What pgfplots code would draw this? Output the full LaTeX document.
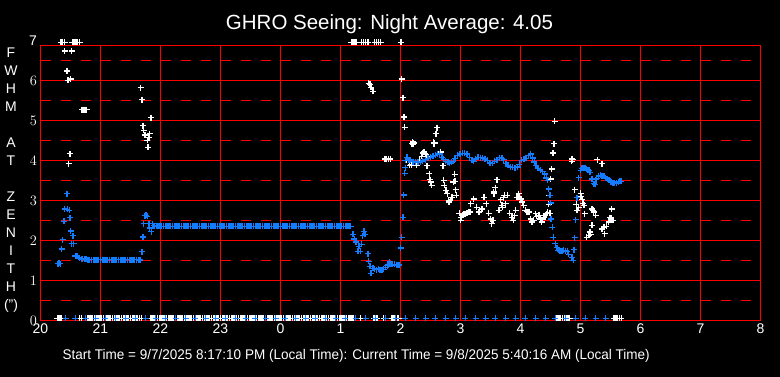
\documentclass[border=0pt]{standalone}
\usepackage{pgfplots}
\pgfplotsset{compat=1.18}
\usepackage{graphicx}
\usepackage{fontspec}
\setmainfont{Liberation Sans}
\definecolor{bl}{RGB}{20,125,255}
\definecolor{rd}{RGB}{255,0,0}
\pgfplotsset{wm/.style={only marks, mark=+, mark size=3pt, white, line width=1.3pt},
             bm/.style={only marks, mark=+, mark size=3pt, bl, line width=1.3pt}}
\begin{document}
\begin{tikzpicture}
\fill[black] (0pt,0pt) rectangle (780pt,377pt);
\node[white,anchor=base,font=\fontsize{20.5}{20.5}\selectfont] at (389.5pt,347.7pt) {GHRO Seeing: Night Average: 4.05};
\node[white,anchor=base west,inner sep=0pt] at (62.5pt,17pt) {\resizebox{587pt}{\height}{\fontsize{14}{14}\selectfont Start Time = 9/7/2025 8:17:10 PM (Local Time): Current Time = 9/8/2025 5:40:16 AM (Local Time)}};
\foreach \l/\yy in {F/319,W/301,H/283,M/265,A/229,T/211,Z/175,E/157,N/139,I/121,T/103,H/85,(")/67}
  \node[white,anchor=base,inner sep=0pt,font=\fontsize{14}{14}\selectfont] at (11pt,\yy pt) {\l};
\begin{axis}[
  at={(40.5pt,56.5pt)}, anchor=south west,
  scale only axis, width=720pt, height=275pt,
  xmin=0, xmax=12, ymin=0, ymax=6.875,
  axis line style={rd, line width=1pt},
  xtick={0,...,12},
  xticklabels={20,21,22,23,0,1,2,3,4,5,6,7,8},
  ytick={0,...,6},
  xmajorgrids=true,
  major grid style={draw=rd, line width=1pt},
  major tick length=0pt, minor tick length=0pt,
  xticklabel style={text=white, font=\fontsize{14}{14}\selectfont},
  yticklabel style={text=white, font=\fontsize{14}{14}\selectfont},
  clip=false,
  axis background/.style={fill=black},
]
\pgfplotsinvokeforeach{1,2,3,4,5,6}{\draw[draw=rd, line width=1pt] (axis cs:0,#1) -- (axis cs:12,#1);}
\pgfplotsinvokeforeach{0.5,1.5,2.5,3.5,4.5,5.5,6.5}{\draw[draw=rd, line width=1pt, dash pattern=on 10pt off 10pt] (axis cs:0,#1) -- (axis cs:12,#1);}
% white series, valid values
\addplot[wm] coordinates {
(0.405,6.74)(0.52,6.74)(0.44,6.24)(0.46,6.0)(0.505,6.04)
(0.69,5.27)(0.71,5.27)(0.73,5.27)(0.75,5.27)(0.77,5.27)
(0.49,4.17)(0.47,3.92)
(1.67,5.82)(1.69,5.52)(1.84,5.07)(1.71,4.87)(1.72,4.75)(1.74,4.64)(1.82,4.67)(1.78,4.5)(1.81,4.58)(1.79,4.33)
(5.47,5.93)(5.49,5.9)(5.51,5.83)(5.54,5.73)
(6.02,6.04)(6.04,5.57)(6.06,5.09)(6.07,4.83)
(5.74,4.04)(5.77,4.04)(5.8,4.04)(5.83,4.04)
(6.19,4.42)(6.2,4.46)(6.22,4.44)(6.21,4.4)
(6.56,4.42)(6.57,4.44)(6.55,4.45)
(6.61,4.82)(6.59,4.67)
(6.39,4.21)(6.42,4.15)(6.35,4.1)(6.44,4.1)(6.37,4.19)
(6.67,4.21)
(6.1,4.0)(6.15,3.875)(6.27,3.875)(6.44,3.87)(6.71,3.87)(6.18,3.89)(6.22,3.96)(6.32,4.0)
(6.48,3.67)(6.49,3.52)(6.52,3.38)(6.5,3.46)
(6.72,3.5)(6.73,3.375)(6.76,3.25)(6.78,3.17)(6.81,2.96)(6.8,3.0)
(6.88,3.46)(6.9,3.65)(6.92,3.27)(6.93,3.125)(6.91,3.48)
(6.86,3.08)(6.83,3.0)
(6.98,2.68)(7.01,2.58)(7.06,2.65)(7.11,2.68)(7.16,2.71)(7.0,2.5)(7.03,2.625)(7.08,2.65)(7.13,2.7)
(7.22,3.04)(7.17,2.92)(7.27,2.83)(7.31,2.71)(7.36,2.79)(7.39,3.08)(7.43,2.92)
(7.47,2.68)(7.5,2.54)(7.52,2.42)(7.54,2.5)
(7.56,3.17)(7.58,3.32)(7.61,3.52)(7.555,3.21)
(7.64,2.75)(7.67,3.02)(7.69,2.875)(7.73,3.125)(7.78,3.125)(7.75,2.92)(7.72,3.07)(7.7,2.83)
(7.82,2.68)(7.86,2.58)(7.88,2.5)(7.92,2.75)(7.94,3.08)(7.97,3.17)(8.01,3.04)(8.05,2.875)(8.08,2.75)(8.14,2.71)(7.9,2.62)(7.98,3.1)(8.03,2.96)(8.11,2.72)
(8.17,2.54)(8.19,2.46)(8.25,2.67)(8.31,2.625)(8.35,2.46)(8.39,2.58)(8.43,2.67)(8.22,2.5)(8.27,2.6)(8.33,2.54)(8.37,2.52)(8.41,2.62)(8.45,2.7)
(8.57,4.98)(8.56,4.42)(8.54,4.19)(8.52,3.79)(8.5,3.54)(8.48,3.125)(8.47,2.9)(8.49,2.68)
(8.86,4.04)(8.85,3.98)(8.87,4.02)
(8.9,3.27)(9.0,3.18)(9.03,3.02)(9.04,2.93)(9.06,2.875)(9.01,3.1)
(8.93,2.9)(8.97,2.82)(8.94,2.75)(9.07,2.67)
(9.19,2.79)(9.22,2.71)(9.25,2.625)(9.21,2.75)
(9.19,2.375)(9.16,2.21)(9.14,2.125)(9.1,2.08)(9.17,2.15)
(9.28,4.02)(9.36,3.92)
(9.52,2.79)(9.49,2.57)(9.54,2.5)(9.47,2.46)(9.51,2.55)
(9.39,2.33)(9.43,2.35)(9.36,2.29)(9.4,2.17)
};
% white series, values off the top (7)
\addplot[wm] coordinates {
(0.34,6.95)(0.37,6.95)(0.40,6.95)(0.53,6.95)(0.56,6.95)(0.59,6.95)(0.62,6.95)(0.65,6.95)
(5.18,6.95)(5.21,6.95)(5.24,6.95)(5.27,6.95)(5.35,6.95)(5.38,6.95)(5.42,6.95)(5.46,6.95)
(5.57,6.95)(5.60,6.95)(5.63,6.95)(5.67,6.95)(6.01,6.95)
};
% blue series, valid values
\addplot[bm] coordinates {
(0.29,1.42)(0.31,1.43)(0.33,1.42)
(0.44,3.17)(0.405,2.79)(0.445,2.78)(0.48,2.75)(0.49,2.57)(0.39,2.475)(0.505,2.24)(0.54,2.12)(0.37,2.02)(0.52,1.92)(0.555,1.92)(0.355,1.79)(0.58,1.61)(0.61,1.61)(0.645,1.57)(0.68,1.54)
(0.70,1.53)(0.73,1.53)(0.76,1.53)(0.79,1.52)(0.82,1.52)(0.85,1.52)(0.88,1.52)(0.91,1.52)(0.94,1.52)(0.97,1.52)(1.00,1.52)(1.03,1.52)(1.06,1.52)(1.09,1.52)(1.12,1.52)(1.15,1.52)(1.18,1.52)(1.21,1.52)(1.24,1.52)(1.27,1.52)(1.30,1.52)(1.33,1.52)(1.36,1.52)(1.39,1.52)(1.42,1.52)(1.45,1.52)(1.48,1.52)(1.51,1.52)(1.54,1.52)(1.57,1.52)(1.60,1.52)(1.63,1.52)(1.66,1.51)
(1.69,1.72)(1.71,2.09)(1.72,2.42)(1.74,2.62)(1.76,2.63)(1.78,2.6)(1.81,2.42)(1.82,2.31)(1.845,2.22)(1.87,2.42)(1.89,2.37)
(1.90,2.35)(1.93,2.35)(1.96,2.35)(1.99,2.35)(2.02,2.35)(2.05,2.35)(2.08,2.35)(2.11,2.35)(2.14,2.35)(2.17,2.35)(2.20,2.35)(2.23,2.35)(2.26,2.35)(2.29,2.35)(2.32,2.35)(2.35,2.35)(2.38,2.35)(2.41,2.35)(2.44,2.35)(2.47,2.35)(2.50,2.35)(2.53,2.35)(2.56,2.35)(2.59,2.35)(2.62,2.35)(2.65,2.35)(2.68,2.35)(2.71,2.35)(2.74,2.35)(2.77,2.35)(2.80,2.35)(2.83,2.35)(2.86,2.35)(2.89,2.35)(2.92,2.35)(2.95,2.35)(2.98,2.35)
(3.01,2.35)(3.04,2.35)(3.07,2.35)(3.10,2.35)(3.13,2.35)(3.16,2.35)(3.19,2.35)(3.22,2.35)(3.25,2.35)(3.28,2.35)(3.31,2.35)(3.34,2.35)(3.37,2.35)(3.40,2.35)(3.43,2.35)(3.46,2.35)(3.49,2.35)(3.52,2.35)(3.55,2.35)(3.58,2.35)(3.61,2.35)(3.64,2.35)(3.67,2.35)(3.70,2.35)(3.73,2.35)(3.76,2.35)(3.79,2.35)(3.82,2.35)(3.85,2.35)(3.88,2.35)(3.91,2.35)(3.94,2.35)(3.97,2.35)
(4.00,2.35)(4.03,2.35)(4.06,2.35)(4.09,2.35)(4.12,2.35)(4.15,2.35)(4.18,2.35)(4.21,2.35)(4.24,2.35)(4.27,2.35)(4.30,2.35)(4.33,2.35)(4.36,2.35)(4.39,2.35)(4.42,2.35)(4.45,2.35)(4.48,2.35)(4.51,2.35)(4.54,2.35)(4.57,2.35)(4.60,2.35)(4.63,2.35)(4.66,2.35)(4.69,2.35)(4.72,2.35)(4.75,2.35)(4.78,2.35)(4.81,2.35)(4.84,2.35)(4.87,2.35)(4.90,2.35)(4.93,2.35)(4.96,2.35)(4.99,2.35)
(5.02,2.35)(5.05,2.35)(5.08,2.35)(5.11,2.35)(5.14,2.35)(5.17,2.35)
(5.21,2.15)(5.23,2.04)(5.26,1.96)(5.39,2.23)(5.41,2.15)(5.37,2.12)(5.35,1.9)(5.31,1.85)(5.29,1.73)(5.33,1.73)(5.46,1.67)(5.47,1.48)(5.49,1.35)(5.51,1.18)
(5.54,1.3)(5.57,1.29)(5.60,1.27)(5.63,1.28)(5.66,1.27)(5.69,1.27)(5.72,1.28)(5.75,1.33)(5.78,1.37)(5.81,1.4)(5.82,1.46)(5.84,1.4)(5.87,1.4)(5.90,1.4)(5.93,1.39)(5.96,1.39)(5.98,1.39)
(6.005,1.81)(6.02,2.08)(6.04,2.58)(6.05,3.14)(6.07,3.68)(6.08,3.82)
(6.08,4.0)(6.11,4.08)(6.14,4.02)(6.17,4.0)(6.21,3.97)(6.25,3.96)(6.29,3.96)(6.33,3.96)(6.37,3.99)(6.42,4.02)(6.46,4.05)(6.5,4.08)(6.54,4.11)(6.58,4.13)(6.62,4.16)(6.65,4.17)(6.69,4.08)(6.72,4.03)(6.75,3.98)(6.79,3.95)(6.82,3.93)(6.85,3.95)(6.88,3.98)(6.91,4.05)(6.95,4.13)(6.99,4.16)
(7.03,4.18)(7.07,4.18)(7.11,4.16)(7.15,4.08)(7.19,4.0)(7.22,3.98)(7.25,4.04)(7.29,4.08)(7.33,4.07)(7.37,4.06)(7.41,4.04)(7.45,4.0)(7.49,3.94)(7.53,3.93)(7.57,3.98)(7.61,4.02)(7.65,4.07)(7.69,4.05)(7.72,4.02)(7.76,3.92)(7.79,3.875)(7.83,3.84)(7.87,3.83)(7.91,3.82)(7.95,3.84)(7.98,3.9)
(8.02,4.0)(8.06,4.03)(8.09,4.05)(8.13,4.12)(8.17,4.16)(8.2,4.06)(8.23,3.96)(8.26,3.88)(8.29,3.8)(8.33,3.76)(8.37,3.72)(8.4,3.66)(8.43,3.56)(8.45,3.5)
(8.47,3.29)(8.49,3.13)(8.5,2.94)(8.51,2.54)(8.53,2.33)(8.545,2.08)(8.58,1.92)(8.61,1.82)(8.63,1.75)(8.66,1.74)(8.69,1.73)(8.72,1.75)(8.75,1.74)(8.78,1.73)(8.8,1.65)(8.86,1.58)(8.88,1.5)
(8.89,1.77)(8.9,2.07)(8.92,2.52)(8.94,3.07)(8.97,3.57)
(9.0,3.75)(9.02,3.8)(9.04,3.82)(9.06,3.8)(9.08,3.82)(9.1,3.79)(9.12,3.77)(9.14,3.75)(9.16,3.7)
(9.19,3.54)(9.22,3.42)(9.24,3.4)(9.26,3.52)
(9.27,3.55)(9.3,3.6)(9.33,3.63)(9.36,3.62)(9.39,3.6)(9.42,3.57)(9.45,3.54)(9.48,3.5)(9.51,3.46)(9.54,3.44)(9.57,3.43)(9.6,3.44)(9.63,3.46)(9.66,3.48)(9.68,3.48)
};
% white series, zero values
\addplot[wm] coordinates {
(0.28,0.05)(0.31,0.05)(0.34,0.05)(0.65,0.05)(0.68,0.05)
(0.75,0.05)(0.78,0.05)(0.81,0.05)(0.84,0.05)(0.87,0.05)(0.90,0.05)(0.93,0.05)(0.96,0.05)(0.99,0.05)(1.02,0.05)(1.05,0.05)(1.08,0.05)(1.11,0.05)(1.14,0.05)(1.17,0.05)(1.20,0.05)(1.23,0.05)(1.26,0.05)(1.29,0.05)(1.32,0.05)(1.35,0.05)(1.38,0.05)(1.41,0.05)(1.44,0.05)(1.47,0.05)(1.50,0.05)(1.53,0.05)(1.56,0.05)(1.59,0.05)(1.62,0.05)(1.65,0.05)(1.68,0.05)
(1.83,0.05)(1.86,0.05)(1.89,0.05)(1.92,0.05)(1.95,0.05)(1.98,0.05)(2.01,0.05)(2.04,0.05)(2.07,0.05)(2.10,0.05)(2.13,0.05)(2.16,0.05)(2.19,0.05)(2.22,0.05)(2.25,0.05)(2.28,0.05)(2.31,0.05)(2.34,0.05)(2.37,0.05)(2.40,0.05)(2.43,0.05)(2.46,0.05)(2.49,0.05)(2.52,0.05)(2.55,0.05)(2.58,0.05)(2.61,0.05)(2.64,0.05)(2.67,0.05)(2.70,0.05)(2.73,0.05)(2.76,0.05)(2.79,0.05)(2.82,0.05)(2.85,0.05)(2.88,0.05)(2.91,0.05)(2.94,0.05)(2.97,0.05)
(3.00,0.05)(3.03,0.05)(3.06,0.05)(3.09,0.05)(3.12,0.05)(3.15,0.05)(3.18,0.05)(3.21,0.05)(3.24,0.05)(3.27,0.05)(3.30,0.05)(3.33,0.05)(3.36,0.05)(3.39,0.05)(3.42,0.05)(3.45,0.05)(3.48,0.05)(3.51,0.05)(3.54,0.05)(3.57,0.05)(3.60,0.05)(3.63,0.05)(3.66,0.05)(3.69,0.05)(3.72,0.05)(3.75,0.05)(3.78,0.05)(3.81,0.05)(3.84,0.05)(3.87,0.05)(3.90,0.05)(3.93,0.05)(3.96,0.05)(3.99,0.05)
(4.02,0.05)(4.05,0.05)(4.08,0.05)(4.11,0.05)(4.14,0.05)(4.17,0.05)(4.20,0.05)(4.23,0.05)(4.26,0.05)(4.29,0.05)(4.32,0.05)(4.35,0.05)(4.38,0.05)(4.41,0.05)(4.44,0.05)(4.47,0.05)(4.50,0.05)(4.53,0.05)(4.56,0.05)(4.59,0.05)(4.62,0.05)(4.65,0.05)(4.68,0.05)(4.71,0.05)(4.74,0.05)(4.77,0.05)(4.80,0.05)(4.83,0.05)(4.86,0.05)(4.89,0.05)(4.92,0.05)(4.95,0.05)(4.98,0.05)
(5.01,0.05)(5.04,0.05)(5.07,0.05)(5.10,0.05)(5.13,0.05)(5.16,0.05)(5.19,0.05)(5.22,0.05)(5.25,0.05)
(5.33,0.05)(5.56,0.05)(5.61,0.05)(5.72,0.05)(5.86,0.05)(5.89,0.05)(5.92,0.05)(5.95,0.05)(5.97,0.05)
(8.58,0.05)(8.61,0.05)(8.64,0.05)(8.67,0.05)(8.70,0.05)(8.73,0.05)(8.76,0.05)(8.79,0.05)(8.82,0.05)
(9.56,0.05)(9.59,0.05)(9.62,0.05)(9.65,0.05)(9.68,0.05)
};
% blue series, zero values
\addplot[bm] coordinates {
(0.417,0.05)(0.583,0.05)(0.75,0.05)(0.917,0.05)(1.083,0.05)(1.25,0.05)(1.417,0.05)(1.583,0.05)(1.75,0.05)(1.917,0.05)(2.083,0.05)(2.25,0.05)(2.417,0.05)(2.583,0.05)(2.75,0.05)(2.917,0.05)(3.083,0.05)(3.25,0.05)(3.417,0.05)(3.583,0.05)(3.75,0.05)(3.917,0.05)(4.083,0.05)(4.25,0.05)(4.417,0.05)(4.583,0.05)(4.75,0.05)(4.917,0.05)(5.083,0.05)(5.25,0.05)(5.417,0.05)(5.583,0.05)(5.75,0.05)(5.917,0.05)(6.083,0.05)(6.25,0.05)(6.417,0.05)(6.583,0.05)(6.75,0.05)(6.917,0.05)(7.083,0.05)(7.25,0.05)(7.417,0.05)(7.583,0.05)(7.75,0.05)(7.917,0.05)(8.083,0.05)(8.25,0.05)(8.417,0.05)(8.583,0.05)(8.75,0.05)(8.917,0.05)(9.083,0.05)(9.25,0.05)(9.417,0.05)
};
\node[white,anchor=east,font=\fontsize{14}{14}\selectfont] at (axis cs:0,7) {7};
\end{axis}
\end{tikzpicture}
\end{document}
